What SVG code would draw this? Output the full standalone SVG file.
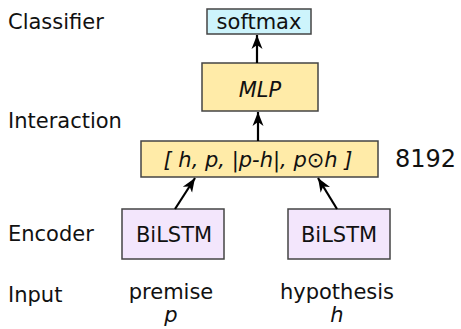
<svg xmlns="http://www.w3.org/2000/svg" width="461" height="329" viewBox="0 0 461 329">
<style>
text{font-family:"DejaVu Sans","Liberation Sans",sans-serif;font-size:21px;fill:#111}
.it{font-style:italic}
.mid{text-anchor:middle}
.box{stroke:#444;stroke-width:1.5}
.cls{fill:#cdf4fc}
.yel{fill:#ffeba8}
.pur{fill:#f3e6fc}
.edge{stroke:#000;stroke-width:2.2;fill:none;marker-end:url(#ah)}
</style>
<defs>
<marker id="ah" markerUnits="userSpaceOnUse" markerWidth="15" markerHeight="13" refX="14" refY="6" orient="auto" viewBox="0 0 15 13">
<path d="M0,0.5 L14,6 L0,11.5 L4,6 z" fill="#000"/>
</marker>
</defs>
<g id="labels">
<text x="8" y="29">Classifier</text>
<text x="8" y="128">Interaction</text>
<text x="8" y="241">Encoder</text>
<text x="8" y="302">Input</text>
</g>
<g id="softmax">
<rect class="box cls" x="207" y="9" width="104" height="25"/>
<text class="mid" x="259" y="29">softmax</text>
</g>
<g id="mlp">
<rect class="box yel" x="202" y="63" width="116" height="48"/>
<text class="mid it" x="260" y="97">MLP</text>
</g>
<g id="concat">
<rect class="box yel" x="141" y="141" width="237" height="36"/>
<text class="mid it" x="258" y="167">[ h, p, |p-h|, p⊙h ]</text>
<text x="395" y="167" style="font-size:24px">8192</text>
</g>
<g id="bilstm-p">
<rect class="box pur" x="122" y="209" width="102" height="50"/>
<text class="mid" x="174" y="242">BiLSTM</text>
</g>
<g id="bilstm-h">
<rect class="box pur" x="288" y="209" width="102" height="50"/>
<text class="mid" x="339" y="242">BiLSTM</text>
</g>
<g id="input-p">
<text class="mid" x="171" y="299">premise</text>
<text class="mid it" x="171" y="322">p</text>
</g>
<g id="input-h">
<text class="mid" x="337" y="299">hypothesis</text>
<text class="mid it" x="337" y="322">h</text>
</g>
<g id="connectors">
<line class="edge" x1="257" y1="63" x2="257" y2="35"/>
<line class="edge" x1="258" y1="141" x2="258" y2="112"/>
<line class="edge" x1="175" y1="209" x2="195" y2="178"/>
<line class="edge" x1="337" y1="209" x2="318" y2="178"/>
</g>
</svg>
